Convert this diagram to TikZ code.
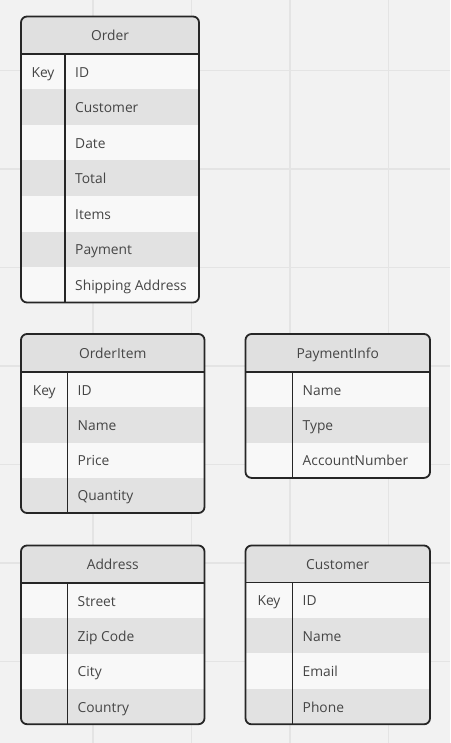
\documentclass[tikz,border=0pt]{standalone}
\usepackage{fontspec}
\setmainfont{Open Sans}
\definecolor{bgcol}{HTML}{F2F2F2}
\definecolor{gridcol}{HTML}{E4E4E4}
\definecolor{headfill}{HTML}{E0E0E0}
\definecolor{lightrow}{HTML}{F8F8F8}
\definecolor{darkrow}{HTML}{E2E2E2}
\definecolor{bordercol}{HTML}{262626}
\definecolor{textcol}{HTML}{454545}
\tikzset{
  border/.style={draw=bordercol, line width=1.8pt},
  gridline/.style={draw=gridcol, line width=1.5pt},
  tabletext/.style={text=textcol, font=\fontsize{13.8}{16}\selectfont, inner sep=0pt},
  titletext/.style={tabletext, anchor=base},
  keytext/.style={tabletext, anchor=base},
  fieldtext/.style={tabletext, anchor=base west},
}
\def\ernokey{-}
% #1 id, #2 left, #3 right, #4 top, #5 header bottom, #6 divider, #7 row height, #8 title, #9 rows
\newcommand{\ertable}[9]{%
  \foreach \kk/\ff [count=\ii] in {#9} {\xdef\ern{\ii}}%
  \pgfmathsetmacro{\erbot}{#5+\ern*#7}%
  \begin{scope}
    \clip[rounded corners=6pt] (#2,#4) rectangle (#3,\erbot);
    \fill[headfill] (#2,#4) rectangle (#3,#5);
    \foreach \kk/\ff [count=\ii] in {#9} {
      \pgfmathsetmacro{\erya}{#5+(\ii-1)*#7}
      \pgfmathsetmacro{\eryb}{#5+\ii*#7}
      \pgfmathtruncatemacro{\erpar}{mod(\ii,2)}
      \ifnum\erpar=1
        \fill[lightrow] (#2,\erya) rectangle (#3,\eryb);
      \else
        \fill[darkrow] (#2,\erya) rectangle (#3,\eryb);
      \fi
    }
  \end{scope}
  \node[titletext] (#1-title) at ({(#2+#3)/2},{(#4+#5)/2+5.5}) {#8};
  \foreach \kk/\ff [count=\ii] in {#9} {
    \pgfmathsetmacro{\eryc}{#5+(\ii-0.5)*#7+5.5}
    \ifx\kk\ernokey\else
      \node[keytext] (#1-key-\ii) at ({(#2+#6)/2},\eryc) {\kk};
    \fi
    \node[fieldtext] (#1-field-\ii) at (#6+10,\eryc) {\ff};
  }
  \draw[border] (#6,#5) -- (#6,\erbot);
  \draw[border] (#2,#5) -- (#3,#5);
  \draw[border, rounded corners=6pt] (#2,#4) rectangle (#3,\erbot);
}
\begin{document}
\begin{tikzpicture}[x=1pt,y=-1pt]
  \useasboundingbox (0,0) rectangle (450,743);
  \fill[bgcol] (0,0) rectangle (450,743);
  \foreach \gx in {93,191.5,290,388.5} {\draw[gridline] (\gx,0) -- (\gx,743);}
  \foreach \gy in {70.5,169,267.5,366,464.5,563,661.5} {\draw[gridline] (0,\gy) -- (450,\gy);}
  \ertable{order}{21}{199}{16.5}{54}{65}{35.5}{Order}{Key/ID,-/Customer,-/Date,-/Total,-/Items,-/Payment,-/Shipping Address}
  \ertable{orderitem}{21}{204.5}{334}{372}{67.5}{35.25}{OrderItem}{Key/ID,-/Name,-/Price,-/Quantity}
  \ertable{paymentinfo}{245.5}{430}{334}{372}{292.5}{35.3}{PaymentInfo}{-/Name,-/Type,-/AccountNumber}
  \ertable{address}{21}{204.5}{545.5}{583}{67.5}{35.3}{Address}{-/Street,-/Zip Code,-/City,-/Country}
  \ertable{customer}{245.5}{430}{545.5}{582.5}{292.5}{35.45}{Customer}{Key/ID,-/Name,-/Email,-/Phone}
\end{tikzpicture}
\end{document}
